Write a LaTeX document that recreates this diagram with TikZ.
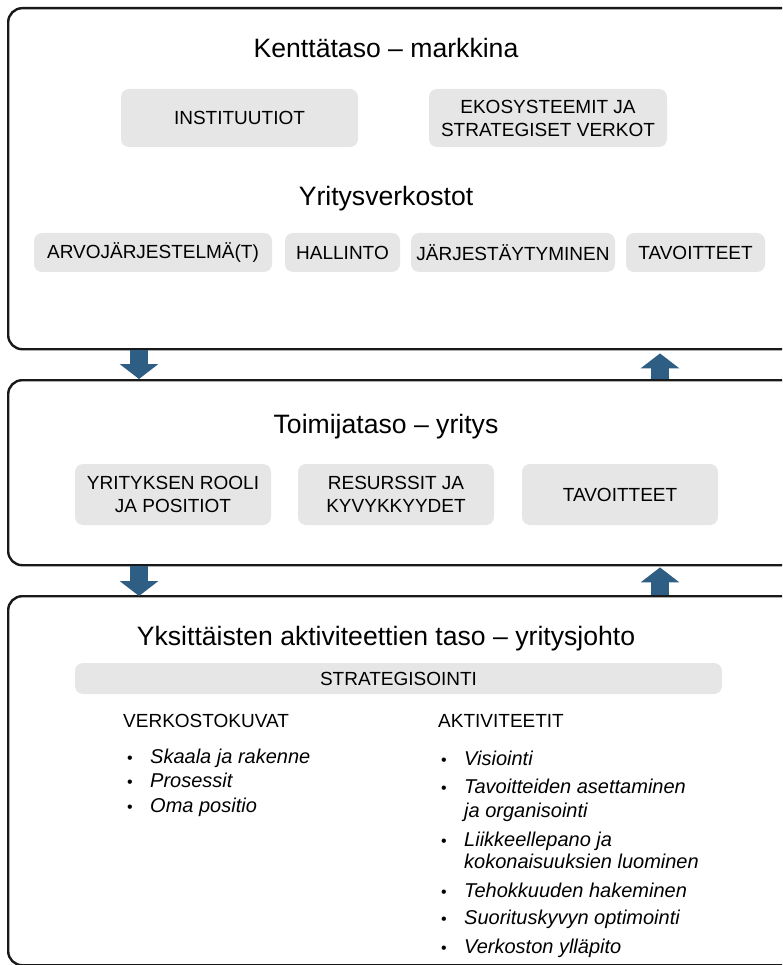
\documentclass[tikz,border=0pt]{standalone}
\usepackage{fontspec}
\setmainfont{Liberation Sans}
\usetikzlibrary{arrows.meta,positioning}

\definecolor{arrowblue}{RGB}{46,94,132}
\definecolor{chipgrey}{RGB}{230,230,230}

\begin{document}
\begin{tikzpicture}[x=1pt, y=-1pt,
  tier/.style={draw=black!90, line width=2.4pt, rounded corners=14pt, anchor=north west,
    minimum width=800pt, inner sep=0pt},
  chip/.style={fill=chipgrey, rounded corners=8pt, align=center, inner sep=0pt,
    font=\fontsize{19}{23}\selectfont},
  heading/.style={anchor=base, inner sep=0pt, font=\fontsize{26.6}{30}\selectfont},
  colhead/.style={anchor=base west, inner sep=0pt, font=\fontsize{19}{23}\selectfont},
  listline/.style={anchor=base west, inner sep=0pt, font=\fontsize{20}{24}\selectfont\itshape},
  dot/.style={anchor=base west, inner sep=0pt, font=\fontsize{16}{24}\selectfont},
  blockarrow/.style={line width=18pt, draw=arrowblue, -{Triangle[length=15pt, width=38pt]}}]
  \useasboundingbox (0,0) rectangle (782,965);
  \clip (0,0) rectangle (782,965);
  \coordinate (leftlane) at (139,0);
  \coordinate (rightlane) at (660,0);

  % tier 1 : kenttataso
  \node[tier, minimum height=341pt] (field) at (7,7) {};
  \node[heading] (fieldtitle) at (386,58) {Kenttätaso – markkina};
  \node[chip, minimum width=237pt, minimum height=58pt] (inst) at (239.5,118) {INSTITUUTIOT};
  \node[chip, minimum width=238pt, minimum height=58pt] (eco) at (548,118)
    {EKOSYSTEEMIT JA\\STRATEGISET VERKOT};
  \node[heading] (nettitle) at (386,206) {Yritysverkostot};
  \node[chip, minimum width=238pt, minimum height=39pt] (values) at (153,252.5) {ARVOJÄRJESTELMÄ(T)};
  \node[chip, minimum width=115pt, minimum height=39pt] (govern) at (342.5,252.5) {HALLINTO};
  \node[chip, minimum width=204pt, minimum height=39pt] (organize) at (513,252.5) {JÄRJESTÄYTYMINEN};
  \node[chip, minimum width=139pt, minimum height=39pt] (netgoals) at (695.5,252.5) {TAVOITTEET};

  % tier 2 : toimijataso
  \node[tier, minimum height=185pt] (actor) at (7,379) {};
  \node[heading] (actortitle) at (386,433) {Toimijataso – yritys};
  \node[chip, minimum width=196pt, minimum height=61pt] (role) at (173,494.5)
    {YRITYKSEN ROOLI\\JA POSITIOT};
  \node[chip, minimum width=196pt, minimum height=61pt] (resources) at (396,494.5)
    {RESURSSIT JA\\KYVYKKYYDET};
  \node[chip, minimum width=196pt, minimum height=61pt] (firmgoals) at (620,494.5) {TAVOITTEET};

  % tier 3 : aktiviteettitaso
  \node[tier, minimum height=369pt] (activity) at (7,595) {};
  \node[heading] (activitytitle) at (386,645) {Yksittäisten aktiviteettien taso – yritysjohto};
  \node[chip, minimum width=647pt, minimum height=31pt] (strategy) at (398.5,678.5) {STRATEGISOINTI};
  \node[colhead] (pictures) at (123,727) {VERKOSTOKUVAT};
  \node[colhead] (actions) at (438,727) {AKTIVITEETIT};
  \foreach \y/\txt [count=\i] in {763/Skaala ja rakenne, 787/Prosessit, 812/Oma positio}{
    \node[dot] (pdot\i) at (127,\y) {•};
    \node[listline] (pitem\i) at (150,\y) {\txt};
  }
  \foreach \y/\txt [count=\i] in {765/Visiointi, 793/Tavoitteiden asettaminen,
      846/Liikkeellepano ja, 897/Tehokkuuden hakeminen,
      924/Suorituskyvyn optimointi, 953/Verkoston ylläpito}{
    \node[dot] (adot\i) at (441,\y) {•};
    \node[listline] (aitem\i) at (464,\y) {\txt};
  }
  \node[listline] (aitem2b) at (464,817) {ja organisointi};
  \node[listline] (aitem3b) at (464,868) {kokonaisuuksien luominen};

  % arrows between tiers
  \draw[blockarrow] (field.south -| leftlane) -- (actor.north -| leftlane);
  \draw[blockarrow, shorten >=3pt] (actor.north -| rightlane) -- (field.south -| rightlane);
  \draw[blockarrow, shorten >=-1pt] (actor.south -| leftlane) -- (activity.north -| leftlane);
  \draw[blockarrow, shorten >=1pt] (activity.north -| rightlane) -- (actor.south -| rightlane);
\end{tikzpicture}
\end{document}
